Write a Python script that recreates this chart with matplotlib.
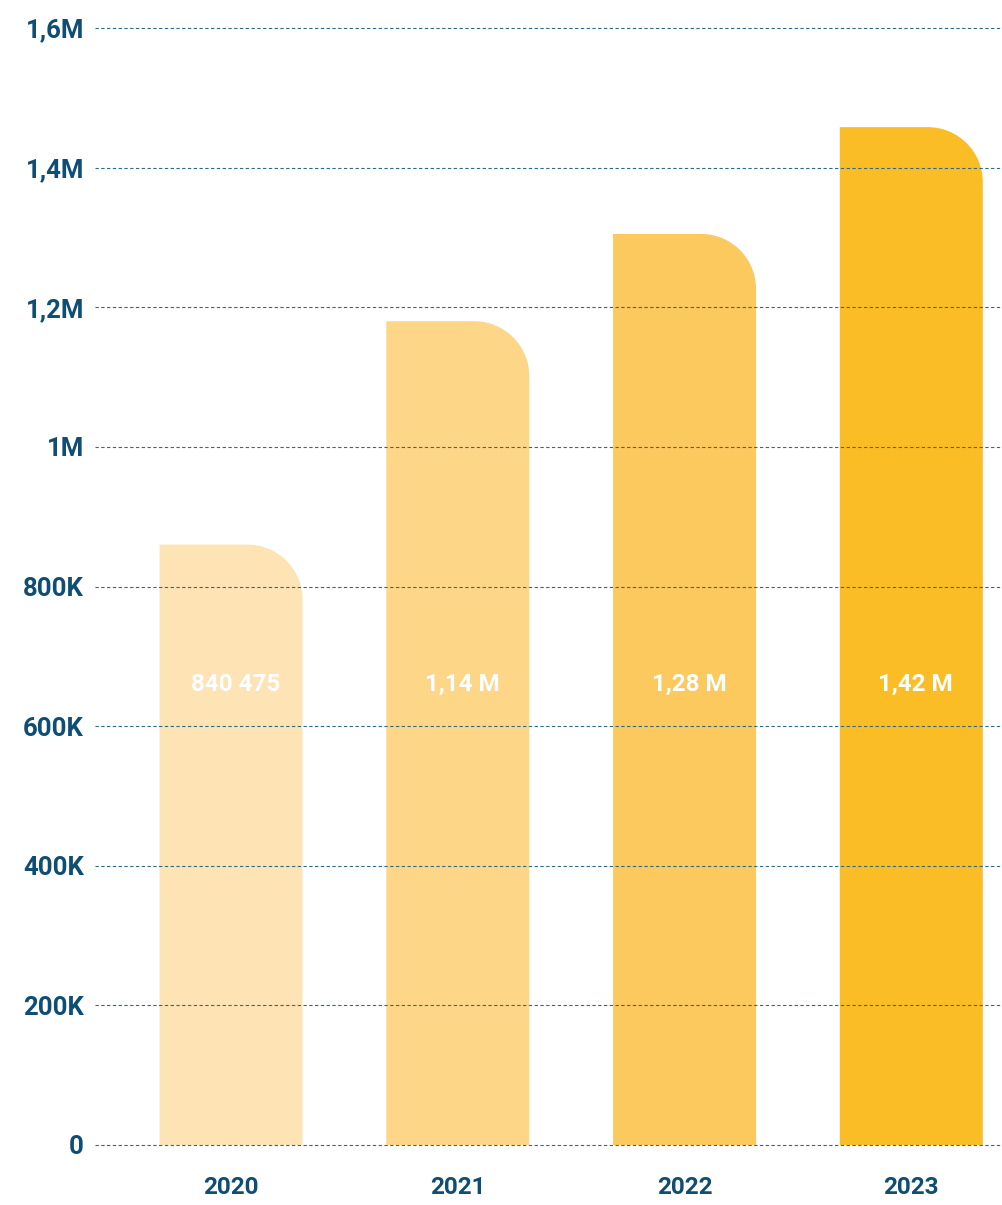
import matplotlib.pyplot as plt
from matplotlib.path import Path
from matplotlib.patches import PathPatch

# Chart data
years = ["2020", "2021", "2022", "2023"]
values = [860000, 1180000, 1305000, 1458000]
value_labels = ["840 475", "1,14 M", "1,28 M", "1,42 M"]
bar_colors = ["#FEE3B4", "#FDD688", "#FCC95E", "#FBBD25"]
y_ticks = [0, 200000, 400000, 600000, 800000, 1000000, 1200000, 1400000, 1600000]
y_tick_labels = ["0", "200K", "400K", "600K", "800K", "1M", "1,2M", "1,4M", "1,6M"]

text_color = "#0E4D74"
grid_color = "#2E6A8A"
font = "Roboto"


def rounded_bar(ax, x, h, width, rx, ry, color):
    # bar with only the top right corner rounded
    x0 = x - width / 2
    x1 = x + width / 2
    k = 0.5523
    cx, cy = x1 - rx, h - ry
    verts = [
        (x0, 0), (x0, h), (cx, h),
        (cx + k * rx, h), (x1, cy + k * ry), (x1, cy),
        (x1, 0), (x0, 0),
    ]
    codes = [Path.MOVETO, Path.LINETO, Path.LINETO,
             Path.CURVE4, Path.CURVE4, Path.CURVE4,
             Path.LINETO, Path.CLOSEPOLY]
    ax.add_patch(PathPatch(Path(verts, codes), facecolor=color, edgecolor="none", zorder=1))


fig = plt.figure(figsize=(10.02, 12.05), dpi=100)
ax = fig.add_axes([95 / 1002, 60 / 1205, 907 / 1002, 1117 / 1205])

xmin, xmax = -0.6, 3.4
ymax = 1600000
ax.set_xlim(xmin, xmax)
ax.set_ylim(0, ymax)

# corner radius ~55 px converted to data units
px_x = (xmax - xmin) / 907
px_y = ymax / 1117
bar_w = 143 * px_x
for i, v in enumerate(values):
    rounded_bar(ax, i, v, bar_w, 55 * px_x, 55 * px_y, bar_colors[i])
    ax.text(i + 0.02, 660000, value_labels[i], ha="center", va="center", color="white",
            fontsize=17.5, fontweight="bold", family=font, zorder=3)

# dashed grid on top of the bars
for t in y_ticks:
    ax.axhline(t, color=grid_color, lw=0.8, ls=(0, (3, 2.2)), zorder=2, clip_on=False)

ax.set_yticks(y_ticks)
ax.set_yticklabels(y_tick_labels, color=text_color, fontsize=18.5, fontweight="bold", family=font)
ax.set_xticks(range(len(years)))
ax.set_xticklabels(years, color=text_color, fontsize=17.5, fontweight="bold", family=font)
ax.tick_params(axis="y", length=0, pad=8)
ax.tick_params(axis="x", length=0, pad=22)
for s in ax.spines.values():
    s.set_visible(False)

plt.savefig("out.png", dpi=100, facecolor="white")
